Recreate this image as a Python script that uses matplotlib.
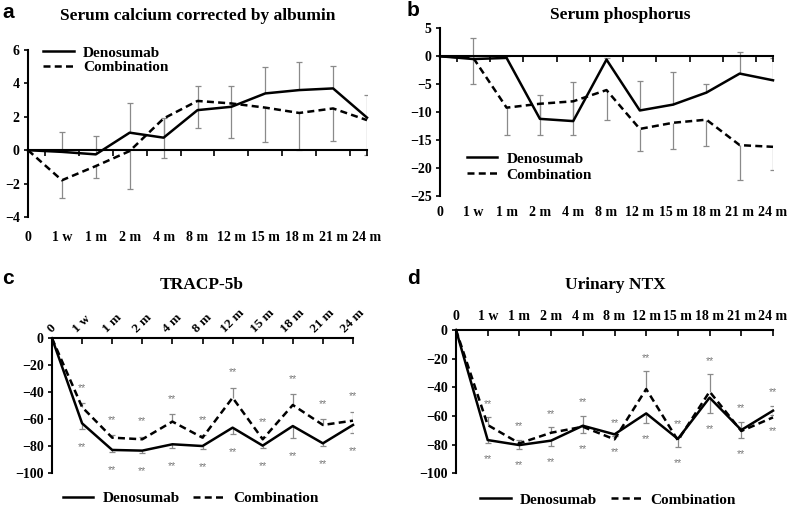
import matplotlib
matplotlib.use('Agg')
import matplotlib.pyplot as plt
import matplotlib.transforms as mtransforms
from matplotlib.lines import Line2D

# ---------------- data ----------------
cats = ['0', '1 w', '1 m', '2 m', '4 m', '8 m', '12 m', '15 m', '18 m', '21 m', '24 m']
names = ['Denosumab', 'Combination']

# a: Serum calcium corrected by albumin (den errors up, comb errors down)
a_den = [0, -0.1, -0.25, 1.05, 0.75, 2.4, 2.6, 3.4, 3.6, 3.7, 1.95]
a_den_err = [0, 1.2, 1.1, 1.75, 1.2, 1.43, 1.27, 1.6, 1.7, 1.33, 1.35]
a_comb = [0, -1.8, -0.95, -0.05, 1.9, 2.95, 2.8, 2.55, 2.23, 2.5, 1.8]
a_comb_err = [0, 1.05, 0.7, 2.25, 2.35, 1.65, 2.04, 2.05, 2.23, 1.96, 2.1]

# b: Serum phosphorus (den errors up, comb errors down)
b_den = [0, -0.5, -0.3, -11.2, -11.6, -0.6, -9.7, -8.65, -6.5, -3.1, -4.3]
b_den_err = [0, 3.85, 0.3, 4.3, 7.0, 0.3, 5.2, 5.85, 1.5, 3.86, 4.0]
b_comb = [0, -0.3, -9.2, -8.5, -8.06, -6.05, -13.0, -11.9, -11.35, -15.9, -16.2]
b_comb_err = [0, 4.7, 4.8, 5.6, 6.0, 5.3, 3.9, 4.7, 4.65, 6.3, 4.1]

# c: TRACP-5b (den errors down, comb errors up)
c_den = [0, -63, -82.7, -83.2, -78.5, -79.8, -66.2, -79.5, -65, -77.8, -64.2]
c_den_err = [0, 4.2, 1.2, 1.5, 2.5, 2.4, 4.8, 1.5, 8.6, 1.7, 5.8]
c_comb = [0, -51, -73.6, -74.8, -61.7, -73.6, -44, -74.8, -49.4, -64.2, -61]
c_comb_err = [0, 3, 2, 2, 5.4, 2, 7.4, 1.5, 7.9, 4.2, 6.6]
c_sig_den = ['', '**', '**', '**', '**', '**', '**', '**', '**', '**', '**']
c_sig_comb = ['', '**', '**', '**', '**', '**', '**', '**', '**', '**', '**']

# d: Urinary NTX (den errors down, comb errors up)
d_den = [0, -76.8, -80.3, -77.2, -66.8, -72.8, -58.2, -76, -47.2, -69.8, -56.3]
d_den_err = [0, 1.8, 3, 3.8, 5.3, 1.5, 6.5, 5.4, 10.5, 5.4, 3]
d_comb = [0, -66.3, -79.1, -71.7, -67.5, -76.3, -41.2, -77, -43, -70.5, -61]
d_comb_err = [0, 5.4, 2.5, 3.8, 7.7, 2, 12.6, 2, 12.3, 6.5, 8.2]
d_sig_den = ['', '**', '**', '**', '**', '**', '**', '**', '**', '**', '**']
d_sig_comb = ['', '**', '**', '**', '**', '**', '**', '**', '**', '**', '**']

# ---------------- style ----------------
W, H = 787, 507
SERIF = ['Liberation Serif', 'DejaVu Serif']
SANS = ['Liberation Sans', 'DejaVu Sans']
plt.rcParams['font.family'] = SERIF
plt.rcParams['font.weight'] = 'bold'
ERR_C = '#8a8a8a'
SIG_C = '#7a7a7a'
LW = 1.8
DASH = (0, (2.8, 1.7))

fig = plt.figure(figsize=(W / 100, H / 100), dpi=100)


def px_axes(x0, x1, ytop, ybot):
    return fig.add_axes([x0 / W, (H - ybot) / H, (x1 - x0) / W, (ybot - ytop) / H])


def err_bars(ax, y, e, up):
    xs = list(range(1, len(y)))
    ys = [y[i] for i in xs]
    ends = [y[i] + e[i] if up else y[i] - e[i] for i in xs]
    ax.vlines(xs, ys, ends, colors=ERR_C, lw=0.9, zorder=1)
    ax.plot(xs, ends, ls='none', marker='_', ms=5, mew=0.9, color=ERR_C, zorder=1)
    return ends


def lines(ax, den, comb):
    x = list(range(len(den)))
    ax.plot(x, den, color='black', lw=LW, zorder=3, clip_on=False)
    ax.plot(x, comb, color='black', lw=LW, ls=DASH, zorder=3, clip_on=False)


def handles():
    return [Line2D([], [], color='black', lw=LW),
            Line2D([], [], color='black', lw=LW, ls=DASH)]


def top_panel(ax, den, den_err, comb, comb_err, ylim, yticks, label_off):
    err_bars(ax, den, den_err, True)
    err_bars(ax, comb, comb_err, False)
    lines(ax, den, comb)
    ax.set_xlim(0, 10)
    ax.set_ylim(*ylim)
    ax.set_yticks(yticks)
    ax.spines['top'].set_visible(False)
    ax.spines['right'].set_visible(False)
    ax.spines['bottom'].set_position(('data', 0))
    for s in ('left', 'bottom'):
        ax.spines[s].set_linewidth(1.5)
    ax.set_xticks([i + 0.5 for i in range(10)] + [10])
    ax.set_xticklabels([])
    ax.tick_params(axis='x', direction='out', length=4, width=1.2)
    ax.tick_params(axis='y', direction='out', length=3, width=1.2, pad=3, labelsize=10)
    tr = mtransforms.blended_transform_factory(ax.transData, ax.transAxes)
    for i, lab in enumerate(cats):
        ax.text(i, label_off, lab, transform=tr, ha='center', va='center',
                fontsize=10, fontweight='bold')


def bottom_panel(ax, den, den_err, comb, comb_err, sig_den, sig_comb,
                 rot, pad, off_c, off_d):
    ends_d = err_bars(ax, den, den_err, False)
    ends_c = err_bars(ax, comb, comb_err, True)
    lines(ax, den, comb)
    for i in range(1, len(den)):
        ax.annotate(sig_comb[i], (i, ends_c[i - 1]), xytext=(0, off_c),
                    textcoords='offset points', ha='center', va='center',
                    fontsize=7.5, color=SIG_C, family=SANS, fontweight='normal')
        ax.annotate(sig_den[i], (i, ends_d[i - 1]), xytext=(0, off_d),
                    textcoords='offset points', ha='center', va='center',
                    fontsize=7.5, color=SIG_C, family=SANS, fontweight='normal')
    ax.set_xlim(0, 10)
    ax.set_ylim(-100, 0)
    ax.set_yticks([-100, -80, -60, -40, -20, 0])
    ax.spines['bottom'].set_visible(False)
    ax.spines['right'].set_visible(False)
    for s in ('left', 'top'):
        ax.spines[s].set_linewidth(1.5)
    ax.xaxis.set_ticks_position('top')
    ax.set_xticks(range(len(cats)))
    ax.set_xticklabels(cats, rotation=rot, fontsize=10 if rot == 0 else 9.5,
                       fontweight='bold')
    ax.tick_params(axis='x', direction='in', length=4.5, width=1.2, pad=pad)
    ax.tick_params(axis='y', direction='out', length=3, width=1.2, pad=3, labelsize=10)


# ---- panel a ----
axa = px_axes(28, 367, 50, 217)
top_panel(axa, a_den, a_den_err, a_comb, a_comb_err, (-4, 6), [-4, -2, 0, 2, 4, 6], -0.12)
axa.legend(handles(), names, loc='center left', bbox_to_anchor=(0.045, 0.94),
           frameon=False, fontsize=11, handlelength=2.0, handletextpad=0.6,
           labelspacing=0.05, borderpad=0, borderaxespad=0)

# ---- panel b ----
axb = px_axes(440, 773, 28.3, 196)
top_panel(axb, b_den, b_den_err, b_comb, b_comb_err, (-25, 5), [-25, -20, -15, -10, -5, 0, 5], -0.10)
axb.legend(handles(), names, loc='center left', bbox_to_anchor=(0.08, 0.173),
           frameon=False, fontsize=11, handlelength=2.0, handletextpad=0.6,
           labelspacing=0.15, borderpad=0, borderaxespad=0)

# ---- panel c ----
axc = px_axes(52, 353, 338.3, 473.3)
bottom_panel(axc, c_den, c_den_err, c_comb, c_comb_err, c_sig_den, c_sig_comb,
             45, 2.5, 11, -13)
axc.legend(handles(), names, loc='center', bbox_to_anchor=(0.46, -0.183), ncol=2,
           frameon=False, fontsize=11, handlelength=2.0, handletextpad=0.6,
           columnspacing=0.9, borderpad=0, borderaxespad=0)

# ---- panel d ----
axd = px_axes(456, 773, 330, 473.3)
bottom_panel(axd, d_den, d_den_err, d_comb, d_comb_err, d_sig_den, d_sig_comb,
             0, 5, 9.5, -11.5)
axd.legend(handles(), names, loc='center', bbox_to_anchor=(0.48, -0.186), ncol=2,
           frameon=False, fontsize=11, handlelength=2.0, handletextpad=0.6,
           columnspacing=0.9, borderpad=0, borderaxespad=0)

# ---- titles and panel letters ----
titles = [('Serum calcium corrected by albumin', 198, 16),
          ('Serum phosphorus', 620, 15),
          ('TRACP-5b', 202, 285),
          ('Urinary NTX', 615, 285)]
for t, x, y in titles:
    fig.text(x / W, 1 - y / H, t, ha='center', va='center', fontsize=12.5, fontweight='bold')
for lab, x, y in [('a', 2, 12), ('b', 407, 11), ('c', 2, 279), ('d', 407, 279)]:
    fig.text(x / W, 1 - y / H, lab, ha='left', va='center', fontsize=15,
             fontweight='bold', family=SANS)

fig.savefig('out.png', dpi=100)
